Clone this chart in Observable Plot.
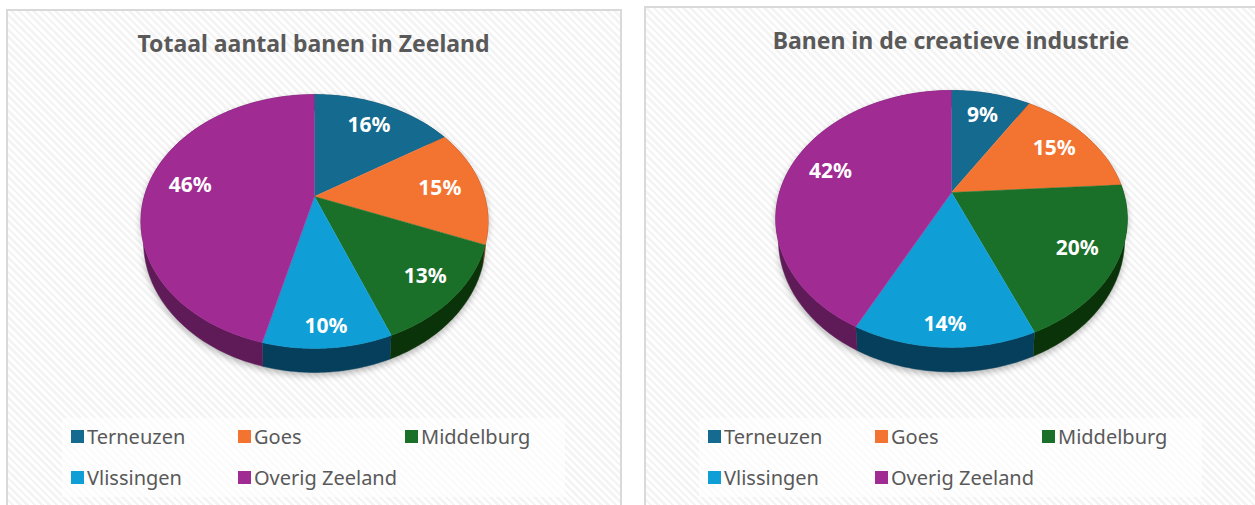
<!DOCTYPE html>
<html><head><meta charset="utf-8">
<script src="https://cdn.jsdelivr.net/npm/d3@7"></script>
<script src="https://cdn.jsdelivr.net/npm/@observablehq/plot@0.6"></script>
<style>
html,body{margin:0;padding:0;background:#fff;width:1255px;height:505px;overflow:hidden;position:relative;font-family:"Noto Sans",sans-serif}
.card{position:absolute;box-sizing:border-box;border:2px solid #d9d9d9;
 background:repeating-linear-gradient(45deg,#fff 0 2.6px,#f4f4f4 2.6px 5.2px)}
.title{position:absolute;font:700 23px "Noto Sans",sans-serif;color:#595959;white-space:nowrap;transform:translateX(-50%);line-height:30px}
.legend{position:absolute;background:rgba(255,255,255,.65);width:503px;height:79px;top:418px}
.item{position:absolute;font:400 20px "Noto Sans",sans-serif;color:#595959;line-height:26px;white-space:nowrap;padding-left:16px}
.item i{position:absolute;left:0;top:6px;width:13px;height:13px}
</style></head>
<body>
<script>
const categories = ["Terneuzen", "Goes", "Middelburg", "Vlissingen", "Overig Zeeland"];
const banenTotaal = [16, 15, 13, 10, 46];
const banenCreatief = [8.9, 15.1, 19.6, 13.9, 42.49];
const titles = ["Totaal aantal banen in Zeeland", "Banen in de creatieve industrie"];
const topColors = ["#156a90", "#f37431", "#1a7029", "#0f9ed5", "#a02b93"];
const sideColors = ["#0c3a50", "#8f441c", "#0b3309", "#063f5c", "#5f1a58"];

const W = 1255, H = 505;
// page geometry of each panel
const panels = [
  {values: banenTotaal, card: [6, 9, 616, 505], cx: 314, cy: 196, a: 170.2, b: 122, k: 0.197, depth: 0.158, title: [313.5, 28], legendX: 62},
  {values: banenCreatief, card: [644, 6, 620, 505], cx: 951, cy: 192, a: 172, b: 123, k: 0.206, depth: 0.158, title: [951, 25], legendX: 699}
];
const sideKey = n => n + " zijkant";

function project(theta, r, k, lower, depth) {
  const u = Math.sin(theta) * r, v = -Math.cos(theta) * r, w = 1 - k * v;
  return {x: (u / w) * (lower ? 0.985 : 1), y: v / w + (lower ? depth / w : 0)};
}

function pie(p) {
  const total = d3.sum(p.values);
  let acc = 0;
  const slices = p.values.map((v, i) => {
    const start = (acc / total) * 2 * Math.PI; acc += v;
    return {name: categories[i], value: v, start, end: (acc / total) * 2 * Math.PI};
  });
  const arc = s => d3.range(0, 61).map(j => s.start + (s.end - s.start) * j / 60);
  const sides = slices.flatMap(s => [
    ...arc(s).map(t => ({key: sideKey(s.name), ...project(t, 1, p.k)})),
    ...arc(s).reverse().map(t => ({key: sideKey(s.name), ...project(t, 1, p.k, true, p.depth)}))
  ]);
  const tops = slices.flatMap(s => [
    {key: s.name, ...project(0, 0, p.k)},
    ...arc(s).map(t => ({key: s.name, ...project(t, 1, p.k)}))
  ]);
  const labels = slices.map(s => {
    const mid = (s.start + s.end) / 2, f = Math.max(0, -Math.cos(mid));
    return {text: d3.format(".0f")(s.value) + "%", ...project(mid, 0.75 + 0.13 * f * f, p.k)};
  });
  const [L, T, CW] = p.card;
  const px = L + 2, py = T + 2, PW = CW - 4, PH = 400;
  const chart = Plot.plot({
    width: PW, height: PH, margin: 0,
    style: {background: "transparent", overflow: "visible"},
    x: {axis: null, domain: [(px - p.cx) / p.a, (px + PW - p.cx) / p.a], range: [0, PW]},
    y: {axis: null, domain: [(py - p.cy) / p.b, (py + PH - p.cy) / p.b], range: [0, PH]},
    color: {type: "ordinal", domain: [...categories, ...categories.map(sideKey)], range: [...topColors, ...sideColors]},
    marks: [
      Plot.line(sides, {x: "x", y: "y", z: "key", fill: "key", stroke: "key", strokeWidth: 0.5,
        imageFilter: "drop-shadow(0 3px 3px rgba(0,0,0,.28))"}),
      Plot.line(tops, {x: "x", y: "y", z: "key", fill: "key", stroke: "key", strokeWidth: 0.5}),
      Plot.text(labels, {x: "x", y: "y", text: "text", fill: "white", fontSize: 21, fontWeight: 700,
        fontFamily: "'Noto Sans',sans-serif"})
    ]
  });
  chart.style.left = px + "px"; chart.style.top = py + "px"; chart.style.position = "absolute";

  const card = document.createElement("div");
  card.className = "card";
  Object.assign(card.style, {left: L + "px", top: T + "px", width: CW + "px", height: (H - T + 10) + "px"});
  document.body.append(card, chart);
  const title = document.createElement("div");
  title.className = "title"; title.textContent = titles[panels.indexOf(p)];
  title.style.left = p.title[0] + "px"; title.style.top = p.title[1] + "px";
  document.body.append(title);

  const legend = document.createElement("div");
  legend.className = "legend"; legend.style.left = p.legendX + "px";
  categories.forEach((c, i) => {
    const it = document.createElement("div");
    it.className = "item";
    it.style.left = (9 + (i % 3) * 167) + "px";
    it.style.top = (6 + Math.floor(i / 3) * 41) + "px";
    const sw = document.createElement("i"); sw.style.background = topColors[i];
    it.append(sw, c);
    legend.append(it);
  });
  document.body.append(legend);
}
panels.forEach(pie);
</script>
</body></html>
